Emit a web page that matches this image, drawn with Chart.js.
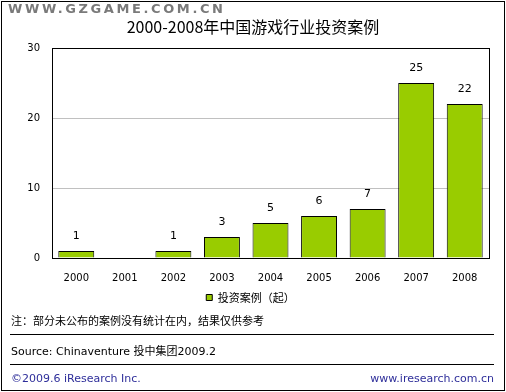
<!DOCTYPE html>
<html>
<head>
<meta charset="utf-8">
<script src="https://cdn.jsdelivr.net/npm/chart.js@4"></script>
<style>
  html, body { margin: 0; padding: 0; background: #fff; }
  #wrap { position: relative; width: 506px; height: 392px; overflow: hidden; }
  #wrap canvas { position: absolute; left: 0; top: 0; }
  .txt { position: absolute; white-space: nowrap; font-family: "DejaVu Sans", sans-serif; }
  .rule { position: absolute; left: 10px; width: 484px; height: 1px; background: #000; }
  #frame { position: absolute; left: 1px; top: 1px; width: 502px; height: 388px; border: 1px solid #000; }
</style>
</head>
<body>
<div id="wrap">
  <canvas id="chart" width="506" height="392"></canvas>
  <div id="frame"></div>
  <div class="txt" style="left:8px; top:1px; font: 900 13px 'DejaVu Sans'; letter-spacing:2.6px; color:#7a7a7a;">WWW.GZGAME.COM.CN</div>
  <div class="txt" style="left:0; width:506px; text-align:center; top:14px; font: 16px 'Noto Sans CJK SC'; color:#000;">2000-2008年中国游戏行业投资案例</div>
  <div class="txt" style="left:11px; top:312px; font: 11px 'Noto Sans CJK SC'; color:#000;">注：部分未公布的案例没有统计在内，结果仅供参考</div>
  <div class="rule" style="top:334px;"></div>
  <div class="txt" style="left:11px; top:342px; font: 11px 'DejaVu Sans'; color:#000;">Source: Chinaventure <span style="font-family:'Noto Sans CJK SC'">投中集团</span>2009.2</div>
  <div class="rule" style="top:364px;"></div>
  <div class="txt" style="left:11px; top:372px; font: 11px 'DejaVu Sans'; color:#2e2e9a;">©2009.6 iResearch Inc.</div>
  <div class="txt" style="right:12px; top:372px; font: 11px 'DejaVu Sans'; color:#2e2e9a;">www.iresearch.com.cn</div>
</div>
<script>
// ---- Data ----
const years  = ['2000', '2001', '2002', '2003', '2004', '2005', '2006', '2007', '2008'];
const cases  = [1, null, 1, 3, 5, 6, 7, 25, 22];
const yTicks = [0, 10, 20, 30];
const seriesName = '投资案例（起）';

const GREEN = '#99cc00';

// value labels above bars + black frame around plot area
const extras = {
  id: 'extras',
  afterDatasetsDraw(chart) {
    const { ctx, chartArea: a } = chart;
    const meta = chart.getDatasetMeta(0);
    ctx.save();
    ctx.font = '11px "DejaVu Sans"';
    ctx.fillStyle = '#000';
    ctx.textAlign = 'center';
    ctx.textBaseline = 'bottom';
    meta.data.forEach((bar, i) => {
      if (cases[i] == null) return;
      ctx.fillText(String(cases[i]), bar.x, bar.y - 9);
    });
    ctx.strokeStyle = '#000';
    ctx.lineWidth = 1;
    ctx.strokeRect(Math.round(a.left) + 0.5, Math.round(a.top) + 0.5,
                   Math.round(a.right - a.left), Math.round(a.bottom - a.top));
    ctx.restore();
  }
};

new Chart(document.getElementById('chart'), {
  type: 'bar',
  data: {
    labels: years,
    datasets: [{
      label: seriesName,
      data: cases,
      backgroundColor: GREEN,
      borderColor: '#000',
      borderWidth: 1,
      categoryPercentage: 0.74,
      barPercentage: 1
    }]
  },
  options: {
    responsive: false,
    animation: false,
    layout: { padding: { top: 48, left: 12, right: 17, bottom: 79 } },
    plugins: {
      tooltip: { enabled: false },
      legend: {
        position: 'bottom',
        labels: {
          boxWidth: 6,
          boxHeight: 6,
          padding: 4,
          color: '#000',
          font: { family: '"Noto Sans CJK SC"', size: 11 }
        }
      }
    },
    scales: {
      x: {
        grid: { display: false },
        border: { display: false },
        ticks: { color: '#000', padding: 6, font: { family: '"DejaVu Sans"', size: 10 } },
        afterFit: s => { s.height = 30; }
      },
      y: {
        min: 0,
        max: 30,
        afterBuildTicks: s => { s.ticks = yTicks.map(v => ({ value: v })); },
        grid: { color: '#c0c0c0', drawTicks: false },
        border: { display: false },
        ticks: { color: '#000', padding: 12, font: { family: '"DejaVu Sans"', size: 10 } },
        afterFit: s => { s.width = 40; }
      }
    }
  },
  plugins: [extras]
});
</script>
</body>
</html>
